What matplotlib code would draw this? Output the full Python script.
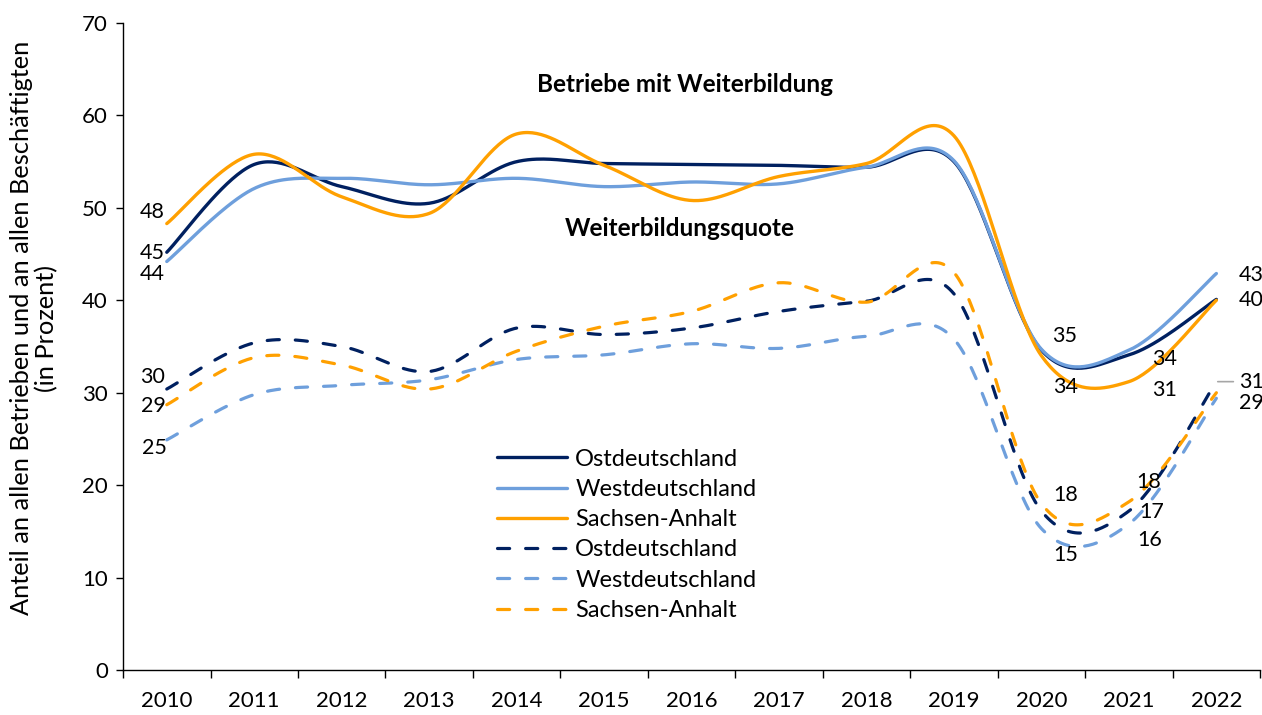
import numpy as np
import matplotlib
matplotlib.use("Agg")
import matplotlib.pyplot as plt

plt.rcParams['font.family'] = ['Lato', 'DejaVu Sans']

years = ['2010', '2011', '2012', '2013', '2014', '2015', '2016',
         '2017', '2018', '2019', '2020', '2021', '2022']

# Betriebe mit Weiterbildung (Anteil an allen Betrieben, %)
betr_ost = [45.2, 54.7, 52.3, 50.5, 55.0, 54.8, 54.7, 54.6, 54.4, 55.0, 34.6, 34.1, 40.1]
betr_west = [44.2, 52.1, 53.2, 52.5, 53.2, 52.3, 52.8, 52.6, 54.4, 55.1, 34.7, 34.6, 42.9]
betr_sa = [48.3, 55.8, 51.2, 49.4, 58.0, 54.6, 50.8, 53.4, 54.8, 57.8, 34.0, 31.2, 40.0]

# Weiterbildungsquote (Anteil an allen Beschaeftigten, %)
quote_ost = [30.4, 35.4, 35.0, 32.3, 37.0, 36.3, 37.0, 38.8, 39.9, 40.7, 17.2, 17.2, 31.2]
quote_west = [24.9, 29.8, 30.8, 31.4, 33.6, 34.1, 35.3, 34.8, 36.1, 35.8, 15.3, 15.8, 29.4]
quote_sa = [28.7, 33.8, 33.0, 30.4, 34.5, 37.2, 38.8, 41.9, 39.8, 43.0, 18.0, 18.2, 30.0]

c_ost = '#002060'
c_west = '#6E9FDC'
c_sa = '#FFA000'


def smooth(values, n=40):
    # Bezier smoothing through every point, like a spreadsheet "smoothed line"
    y = np.asarray(values, dtype=float)
    x = np.arange(len(y), dtype=float)
    pts = np.column_stack([x, y])
    pad = np.vstack([pts[0], pts, pts[-1]])
    t = np.linspace(0, 1, n)[:, None]
    out = []
    for i in range(len(pts) - 1):
        p0, p1, p2, p3 = pad[i], pad[i + 1], pad[i + 2], pad[i + 3]
        c1 = p1 + (p2 - p0) / 6
        c2 = p2 - (p3 - p1) / 6
        seg = ((1 - t) ** 3) * p1 + 3 * ((1 - t) ** 2) * t * c1 + 3 * (1 - t) * t ** 2 * c2 + t ** 3 * p2
        out.append(seg if i == 0 else seg[1:])
    seg = np.vstack(out)
    return seg[:, 0], seg[:, 1]


fig = plt.figure(figsize=(12.62, 7.15), dpi=100)
ax = fig.add_axes([0.0975, 0.0629, 0.9010, 0.9049])

solid = [(betr_ost, c_ost, 'Ostdeutschland'),
         (betr_west, c_west, 'Westdeutschland'),
         (betr_sa, c_sa, 'Sachsen-Anhalt')]
dashed = [(quote_ost, c_ost, 'Ostdeutschland'),
          (quote_west, c_west, 'Westdeutschland'),
          (quote_sa, c_sa, 'Sachsen-Anhalt')]

for vals, col, lab in solid:
    sx, sy = smooth(vals)
    ax.plot(sx, sy, color=col, lw=2.4, label=lab, solid_capstyle='round')
for vals, col, lab in dashed:
    sx, sy = smooth(vals)
    ax.plot(sx, sy, color=col, lw=2.3, label=lab, dashes=(3.8, 5.0),
            dash_capstyle='round')

# data labels: (series, year index, dx px, dy px)
labels = [
    (betr_sa, 0, -15, 12), (betr_ost, 0, -15, -1), (betr_west, 0, -15, -13),
    (quote_ost, 0, -14, 12), (quote_sa, 0, -13, -1), (quote_west, 0, -12, -8),
    (betr_ost, 10, 23, 14), (betr_sa, 10, 24, -31),
    (betr_ost, 11, 36, -4), (betr_sa, 11, 36, -8),
    (quote_sa, 10, 24, 9), (quote_west, 10, 24, -26),
    (quote_sa, 11, 20, 20), (quote_ost, 11, 23, -1), (quote_west, 11, 21, -16),
    (betr_west, 12, 35, -1), (betr_ost, 12, 35, -1), (quote_west, 12, 35, -5),
]
px = 72 / fig.dpi
for vals, i, dx, dy in labels:
    ax.annotate(f"{vals[i]:.0f}", xy=(i, vals[i]), xytext=(dx * px, dy * px),
                textcoords='offset points', ha='center', va='center',
                fontsize=15.5, color='#000000', annotation_clip=False)

# label moved off the line gets a leader
ax.annotate(f"{quote_ost[12]:.0f}", xy=(12, quote_ost[12]), xytext=(35 * px, 0),
            textcoords='offset points', ha='center', va='center',
            fontsize=15.5, annotation_clip=False,
            arrowprops=dict(arrowstyle='-', color='#a6a6a6', lw=1.2,
                            shrinkA=2, shrinkB=1))

ax.text(5.92, 63.3, 'Betriebe mit Weiterbildung', ha='center', va='center',
        fontsize=17.5, fontweight='bold')
ax.text(5.87, 47.8, 'Weiterbildungsquote', ha='center', va='center',
        fontsize=17.5, fontweight='bold')

ax.set_xlim(-0.5, len(years) - 0.5)
ax.set_ylim(0, 70)
ax.set_yticks(range(0, 71, 10))
ax.set_xticks(range(len(years)))
ax.set_xticklabels(years)
ax.set_xticks(np.arange(-0.5, len(years), 1.0), minor=True)
ax.tick_params(axis='x', which='major', length=0, pad=15, labelsize=16)
ax.tick_params(axis='x', which='minor', length=6, width=1, direction='out')
ax.tick_params(axis='y', length=5, width=1, direction='out', pad=6, labelsize=16)

for s in ['top', 'right']:
    ax.spines[s].set_visible(False)
for s in ['left', 'bottom']:
    ax.spines[s].set_linewidth(1)
    ax.spines[s].set_color('#000000')

fig.text(0.027, 0.541, 'Anteil an allen Betrieben und an allen Beschäftigten\n(in Prozent)',
         rotation=90, ha='center', va='center', fontsize=18.3, multialignment='center',
         linespacing=1.1)

leg = ax.legend(loc='upper left', bbox_to_anchor=(0.329, 0.342), frameon=False,
                fontsize=17, handlelength=2.97, handletextpad=0.34,
                labelspacing=0.39, borderaxespad=0, borderpad=0)

fig.savefig('out.png', dpi=100)
